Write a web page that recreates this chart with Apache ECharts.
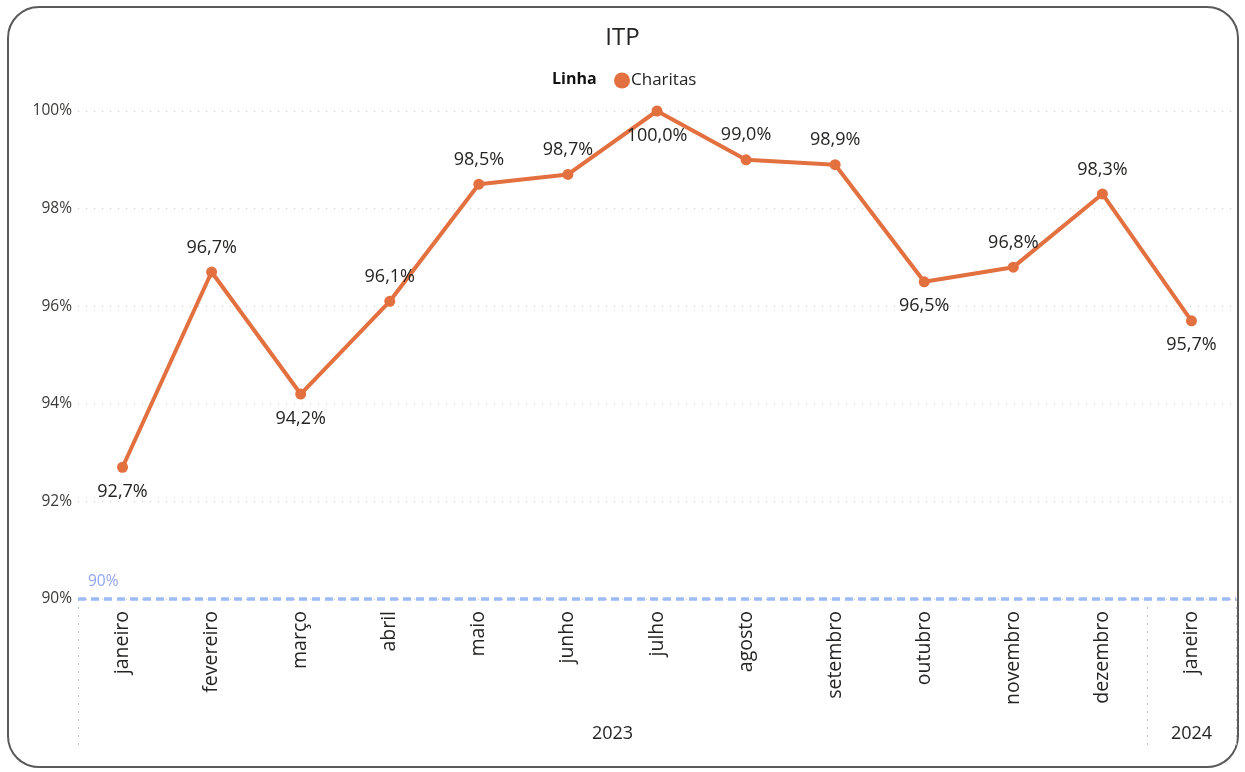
<!DOCTYPE html>
<html>
<head>
<meta charset="utf-8">
<title>ITP</title>
<script src="https://cdn.jsdelivr.net/npm/echarts@6/dist/echarts.min.js"></script>
<style>
  html, body { margin: 0; padding: 0; background: #fff; }
  #frame {
    position: absolute; left: 7px; top: 6px; width: 1232px; height: 762px;
    border: 2px solid #5a5a5a; border-radius: 32px; box-sizing: border-box;
  }
  #main { position: absolute; left: 0; top: 0; width: 1245px; height: 772px; }
</style>
</head>
<body>
<div id="frame"></div>
<div id="main"></div>
<script>
// meses e valores do ITP
const months = ['janeiro', 'fevereiro', 'março', 'abril', 'maio', 'junho', 'julho',
  'agosto', 'setembro', 'outubro', 'novembro', 'dezembro', 'janeiro'];
const monthYears = ['2023', '2023', '2023', '2023', '2023', '2023', '2023',
  '2023', '2023', '2023', '2023', '2023', '2024'];
const itpValues = [92.7, 96.7, 94.2, 96.1, 98.5, 98.7, 100.0, 99.0, 98.9, 96.5, 96.8, 98.3, 95.7];
// rótulos abaixo do ponto
const labelBelow = [true, false, true, false, false, false, true, false, false, true, false, false, true];
const yTicks = [90, 92, 94, 96, 98, 100];
const targetValue = 90;

const font = "'Segoe UI', 'Open Sans', 'Noto Sans', sans-serif";
const lineColor = '#E3703F';
const textColor = '#252423';

// centro de cada ano (em índices de mês)
const yearCenters = {};
monthYears.forEach((y, i) => {
  if (!yearCenters[y]) yearCenters[y] = { first: i, last: i };
  yearCenters[y].last = i;
});
const yearAt = {};
Object.keys(yearCenters).forEach(y => {
  yearAt[(yearCenters[y].first + yearCenters[y].last) / 2] = y;
});
// fronteiras entre anos
const yearStarts = monthYears.map((y, i) => i === 0 || y !== monthYears[i - 1]);

const chart = echarts.init(document.getElementById('main'), null, { renderer: 'canvas' });

const option = {
  backgroundColor: 'transparent',
  textStyle: { fontFamily: font },
  animation: false,
  title: [
    {
      text: 'ITP',
      left: 'center',
      top: 21,
      textStyle: { fontFamily: font, fontSize: 24, fontWeight: 'normal', color: textColor }
    },
    {
      text: 'Linha',
      left: 547,
      top: 66,
      textStyle: { fontFamily: font, fontSize: 16, fontWeight: 'bold', color: '#111' }
    }
  ],
  legend: {
    left: 609,
    top: 67,
    icon: 'circle',
    itemWidth: 16,
    itemHeight: 16,
    itemGap: 4,
    textStyle: { fontFamily: font, fontSize: 17, color: textColor, padding: [0, 0, 0, -4] },
    data: ['Charitas']
  },
  grid: { left: 78, right: 9, top: 111, bottom: 173, containLabel: false },
  xAxis: [
    {
      type: 'category',
      data: months,
      boundaryGap: true,
      axisLine: { show: false },
      axisTick: {
        show: true,
        length: 146,
        interval: (i) => yearStarts[i] === true,
        lineStyle: { type: [2, 6], color: '#bdbdbd', width: 1 }
      },
      axisLabel: {
        rotate: 90,
        margin: 12,
        fontFamily: font,
        fontSize: 19.5,
        color: textColor,
        interval: 0
      }
    },
    {
      type: 'value',
      position: 'bottom',
      offset: 118,
      min: -0.5,
      max: months.length - 0.5,
      interval: 0.5,
      axisLine: { show: false },
      axisTick: { show: false },
      splitLine: { show: false },
      axisLabel: {
        fontFamily: font,
        fontSize: 18,
        color: textColor,
        showMinLabel: true,
        showMaxLabel: true,
        formatter: (v) => yearAt[v] || ''
      }
    }
  ],
  yAxis: {
    type: 'value',
    min: yTicks[0],
    max: yTicks[yTicks.length - 1],
    interval: 2,
    axisLine: { show: false },
    axisTick: { show: false },
    axisLabel: {
      fontFamily: font,
      fontSize: 15.5,
      color: '#3b3a39',
      margin: 6,
      formatter: '{value}%'
    },
    splitLine: { lineStyle: { type: [1, 7], color: '#c8c8c8', width: 1 } }
  },
  series: [
    {
      name: 'Charitas',
      type: 'line',
      xAxisIndex: 0,
      data: itpValues.map((v, i) => ({
        value: v,
        label: { position: labelBelow[i] ? 'bottom' : 'top' }
      })),
      symbol: 'circle',
      symbolSize: 11,
      itemStyle: { color: lineColor },
      lineStyle: { color: lineColor, width: 4 },
      label: {
        show: true,
        distance: 10,
        fontFamily: font,
        fontSize: 18,
        color: textColor,
        formatter: (p) => p.value.toFixed(1).replace('.', ',') + '%'
      },
      markLine: {
        silent: true,
        symbol: 'none',
        data: [{ yAxis: targetValue }],
        lineStyle: { type: [8, 5], color: '#9dbcf6', width: 3.5 },
        label: {
          position: 'insideStartTop',
          distance: [10, 9],
          fontFamily: font,
          fontSize: 15.5,
          color: '#8fa5f5',
          formatter: targetValue + '%'
        }
      }
    }
  ]
};

chart.setOption(option);
</script>
</body>
</html>
